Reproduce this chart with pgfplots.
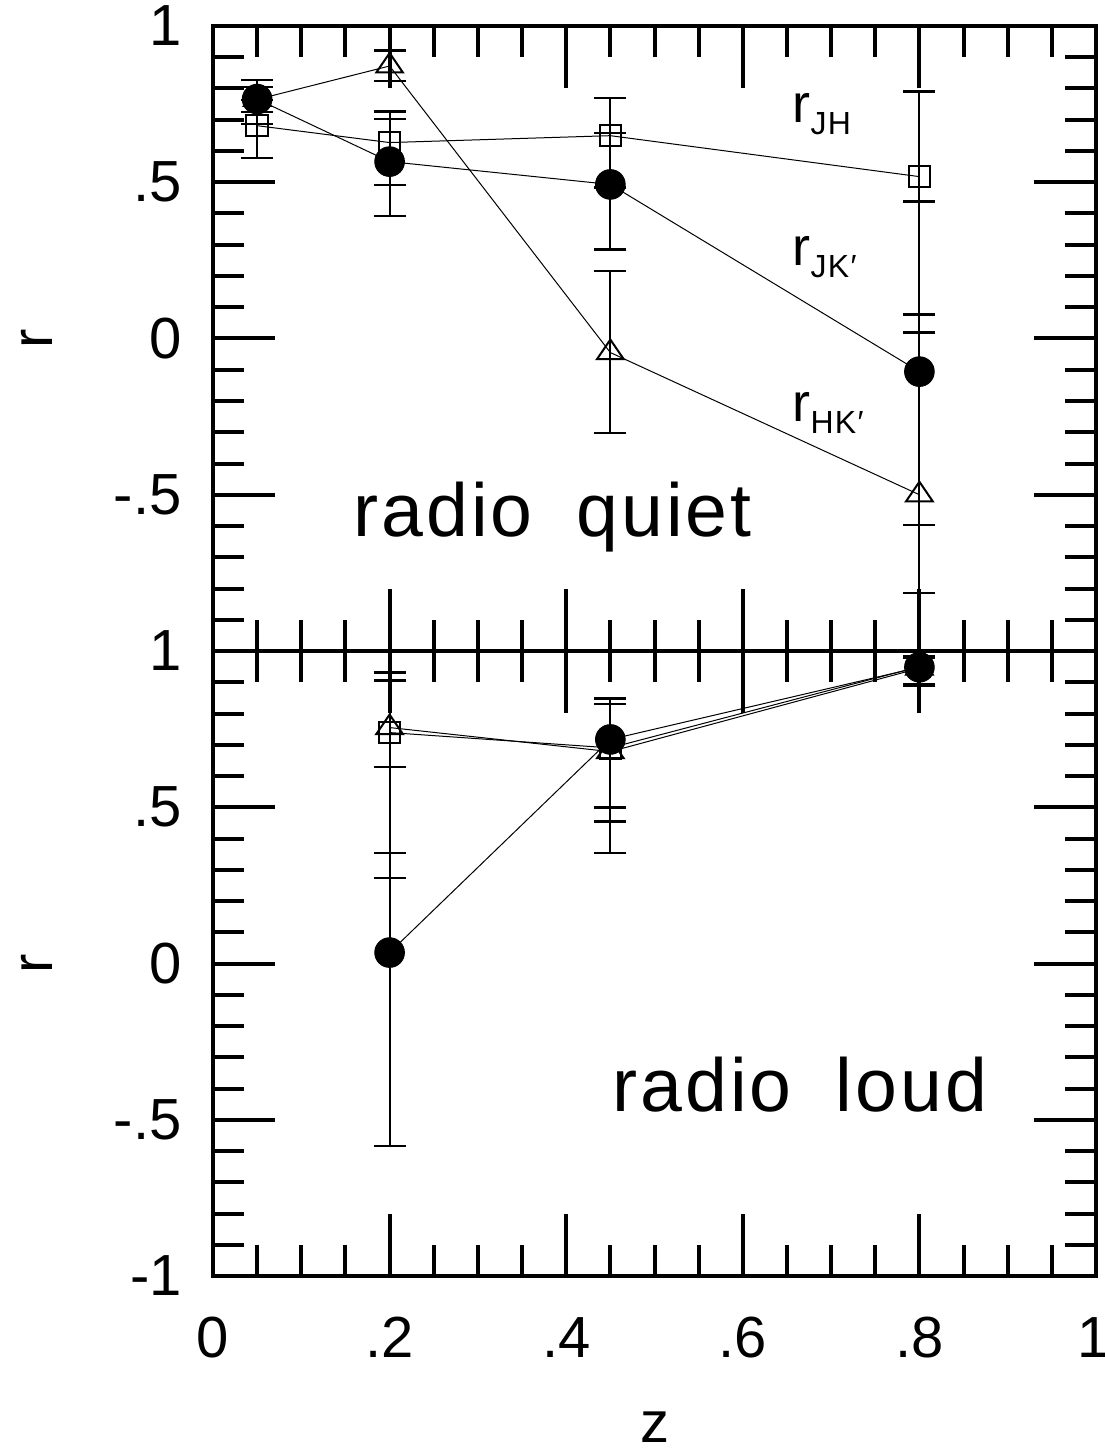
\documentclass[border=0pt]{standalone}
\usepackage{fontspec}
\setmainfont{Liberation Sans}
\newfontfamily\annot{Liberation Sans}[LetterSpace=4]
\usepackage{pgfplots}
\pgfplotsset{compat=1.18}
\usepackage{pgfplotstable}

% top panel (radio quiet)
\pgfplotstableread{
x y ep em
0.05 0.681 0.082 0.104
0.20 0.627 0.099 0.136
0.45 0.649 0.120 0.165
0.80 0.518 0.272 0.441
}\topJH
\pgfplotstableread{
x y ep em
0.05 0.765 0.040 0.040
0.20 0.872 0.049 0.048
0.45 -0.045 0.261 0.258
0.80 -0.500 0.519 0.315
}\topHK
\pgfplotstableread{
x y ep em
0.05 0.766 0.061 0.079
0.20 0.566 0.136 0.174
0.45 0.493 0.164 0.208
0.80 -0.106 0.544 0.491
}\topJK
% bottom panel (radio loud)
\pgfplotstableread{
x y ep em
0.20 0.739 0.167 0.386
0.45 0.690 0.140 0.236
0.80 0.950 0.033 0.060
}\botJH
\pgfplotstableread{
x y ep em
0.20 0.755 0.176 0.482
0.45 0.678 0.172 0.325
0.80 0.945 0.035 0.057
}\botHK
\pgfplotstableread{
x y ep em
0.20 0.035 0.594 0.619
0.45 0.717 0.130 0.218
0.80 0.948 0.034 0.053
}\botJK

\pgfplotsset{
  panel/.style={
    scale only axis, width=441.5pt, height=312.5pt,
    xmin=0, xmax=1, ymin=-1, ymax=1,
    xtick={0,0.2,0.4,0.6,0.8,1},
    ytick={-1,-0.5,0,0.5,1},
    minor x tick num=3, minor y tick num=4,
    tick align=inside,
    xtick pos=both, ytick pos=both,
    xticklabel pos=lower, yticklabel pos=left,
    major tick length=31pt, minor tick length=15.5pt,
    tick style={line width=2pt, black},
    axis line style={line width=2pt},
    ticklabel style={font=\fontsize{29}{29}\selectfont, inner sep=0pt},
    yticklabel style={xshift=-15.5pt},
    xticklabel style={yshift=-20.5pt},
    label style={font=\fontsize{29}{29}\selectfont},
    ylabel={r},
    ylabel style={at={(axis description cs:-0.199,0.5)}, anchor=center},
  },
  ser/.style={black, line width=0.5pt,
    error bars/y dir=both, error bars/y explicit,
    error bars/error bar style={line width=1pt},
    error bars/error mark options={rotate=90, mark size=8pt, line width=1.3pt}},
  sq/.style={mark=square, mark size=5.4pt, mark options={solid, line width=1pt}},
  tri/.style={mark=triangle, mark size=6.5pt, mark options={solid, xscale=1.18, line width=1pt}},
  dot/.style={mark=*, mark size=7.4pt, mark options={solid, fill=black}},
}
\tikzset{sub/.style={anchor=base west, inner sep=0pt, font=\annot\fontsize{27}{27}\selectfont}}
\newcommand{\sbs}[1]{\raisebox{-6pt}{\fontsize{16}{16}\selectfont #1}}

\begin{document}
\begin{tikzpicture}
\begin{axis}[panel, at={(0,0)}, anchor=north west,
  xticklabels={},
  yticklabels={,-.5,0,.5,1}]
\addplot[ser, sq] table[x=x, y=y, y error plus=ep, y error minus=em] {\topJH};
\addplot[ser, tri] table[x=x, y=y, y error plus=ep, y error minus=em] {\topHK};
\addplot[ser, dot] table[x=x, y=y, y error plus=ep, y error minus=em] {\topJK};
\node[sub] at (axis cs:0.656,0.690) {r\sbs{JH}};
\node[sub] at (axis cs:0.656,0.235) {r\sbs{JK′}};
\node[sub] at (axis cs:0.656,-0.266) {r\sbs{HK′}};
\node[anchor=base west, inner sep=0pt, font=\annot\fontsize{37.6}{38}\selectfont] at (axis cs:0.1586,-0.635) {radio\hspace{22pt}quiet};
\end{axis}
\begin{axis}[panel, at={(0,-312.5pt)}, anchor=north west,
  xticklabels={0,.2,.4,.6,.8,\makebox[0pt]{1\hspace{2pt}}},
  yticklabels={-1,-.5,0,.5,1},
  xlabel={z},
  xlabel style={at={(axis description cs:0.5,0)}, anchor=center, yshift=-75.5pt}]
\addplot[ser, sq] table[x=x, y=y, y error plus=ep, y error minus=em] {\botJH};
\addplot[ser, tri] table[x=x, y=y, y error plus=ep, y error minus=em] {\botHK};
\addplot[ser, dot] table[x=x, y=y, y error plus=ep, y error minus=em] {\botJK};
\node[anchor=base west, inner sep=0pt, font=\annot\fontsize{37.6}{38}\selectfont] at (axis cs:0.452,-0.472) {radio\hspace{22pt}loud};
\end{axis}
\pgfresetboundingbox
\path (-106.5pt,13pt) rectangle (445.5pt,-714pt);
\end{tikzpicture}
\end{document}
